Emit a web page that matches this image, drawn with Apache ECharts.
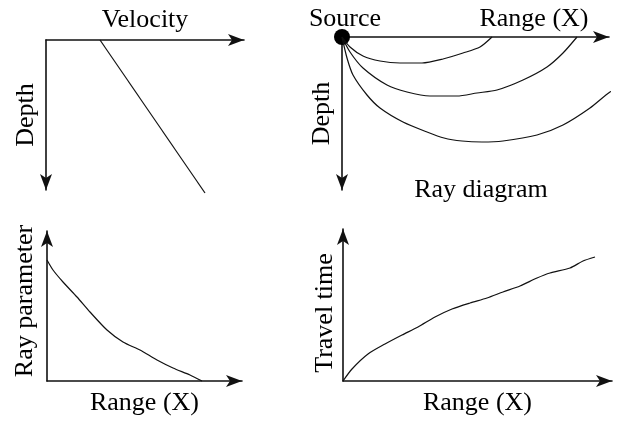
<!DOCTYPE html>
<html>
<head>
<meta charset="utf-8">
<script src="https://cdn.jsdelivr.net/npm/echarts@6/dist/echarts.min.js"></script>
<style>
  html, body { margin: 0; padding: 0; background: #fff; }
  #chart { width: 629px; height: 422px; }
</style>
</head>
<body>
<div id="chart"></div>
<script>
  // values are offsets in arbitrary units from each panel's origin
  const velocityLine = [[54, 0], [159, 153]];
  const ray1 = [[0, 0], [8, 10], [21, 19], [38, 24], [58, 26], [80, 26], [101, 22], [121, 16], [138, 10], [150, 0]];
  const ray2 = [[0, 0], [8, 15], [21, 31], [45, 48], [65, 55], [88, 59], [115, 59], [135, 56], [155, 53], [181, 43], [205, 30], [221, 16], [235, 0]];
  const ray3 = [[0, 0], [5, 21], [11, 38], [25, 58], [38, 71], [61, 85], [85, 95], [102, 101], [120, 104], [140, 105], [161, 104], [195, 98], [221, 88], [248, 71], [268, 55], [287, 45]];
  const rayParam = [[0, 121], [6, 111], [16, 99], [30, 84], [43, 69], [60, 51], [76, 39], [93, 31], [110, 21], [126, 13], [143, 6], [155, 0]];
  const travelTime = [[0, 0], [9, 12], [25, 27], [42, 37], [59, 46], [75, 54], [92, 64], [109, 72], [127, 78], [144, 83], [160, 89], [177, 95], [194, 103], [207, 108], [227, 113], [240, 120], [252, 124]];

  const fontFamily = '"Liberation Serif", "DejaVu Serif", serif';
  const txt = { color: '#000', fontSize: 26, fontFamily: fontFamily };

  const grids = [
    { left: 46, top: 40, width: 198, height: 150 },
    { left: 342, top: 37, width: 267, height: 153 },
    { left: 47, top: 231, width: 195, height: 150 },
    { left: 343, top: 229, width: 269, height: 152 }
  ];

  function axisBase(max, arrowAtStart) {
    return {
      type: 'value', min: 0, max: max,
      axisLine: {
        show: true, onZero: false,
        symbol: arrowAtStart ? ['arrow', 'none'] : ['none', 'arrow'],
        symbolSize: [9, 16],
        lineStyle: { color: '#111', width: 1.6 }
      },
      axisTick: { show: false }, axisLabel: { show: false }, splitLine: { show: false }
    };
  }

  const xAxes = [
    Object.assign(axisBase(198), { gridIndex: 0, position: 'top', name: 'Velocity', nameLocation: 'middle', nameGap: 7, nameTextStyle: txt }),
    Object.assign(axisBase(267), { gridIndex: 1, position: 'top' }),
    Object.assign(axisBase(195), { gridIndex: 2, name: 'Range (X)', nameLocation: 'middle', nameGap: 9, nameTextStyle: txt }),
    Object.assign(axisBase(269), { gridIndex: 3, name: 'Range (X)', nameLocation: 'middle', nameGap: 9, nameTextStyle: txt })
  ];
  const yAxes = [
    Object.assign(axisBase(150, true), { gridIndex: 0, inverse: true, name: 'Depth', nameLocation: 'middle', nameGap: 7, nameTextStyle: txt }),
    Object.assign(axisBase(153, true), { gridIndex: 1, inverse: true, name: 'Depth', nameLocation: 'middle', nameGap: 7, nameTextStyle: txt }),
    Object.assign(axisBase(150), { gridIndex: 2, name: 'Ray parameter', nameLocation: 'middle', nameGap: 9, nameTextStyle: Object.assign({ padding: [0, 0, 0, 10] }, txt) }),
    Object.assign(axisBase(152), { gridIndex: 3, name: 'Travel time', nameLocation: 'middle', nameGap: 5, nameTextStyle: Object.assign({ padding: [0, 16, 0, 0] }, txt) })
  ];

  function curve(data, idx) {
    return {
      type: 'line', xAxisIndex: idx, yAxisIndex: idx, data: data,
      smooth: 0.25, symbol: 'none', clip: false, silent: true,
      lineStyle: { color: '#111', width: 1.2 }
    };
  }

  const myChart = echarts.init(document.getElementById('chart'));
  myChart.setOption({
    animation: false,
    backgroundColor: '#fff',
    title: [
      { text: 'Source', left: 345, top: 19, textAlign: 'center', textVerticalAlign: 'middle', padding: 0, textStyle: Object.assign({ fontWeight: 'normal' }, txt) },
      { text: 'Range (X)', left: 534, top: 19, textAlign: 'center', textVerticalAlign: 'middle', padding: 0, textStyle: Object.assign({ fontWeight: 'normal' }, txt) },
      { text: 'Ray diagram', left: 481, top: 190, textAlign: 'center', textVerticalAlign: 'middle', padding: 0, textStyle: Object.assign({ fontWeight: 'normal' }, txt) }
    ],
    grid: grids,
    xAxis: xAxes,
    yAxis: yAxes,
    series: [
      curve(velocityLine, 0),
      curve(ray1, 1),
      curve(ray2, 1),
      curve(ray3, 1),
      {
        type: 'scatter', xAxisIndex: 1, yAxisIndex: 1, data: [[0, 0]],
        symbolSize: 16, clip: false, itemStyle: { color: '#000', opacity: 1 }
      },
      curve(rayParam, 2),
      curve(travelTime, 3)
    ]
  });
</script>
</body>
</html>
